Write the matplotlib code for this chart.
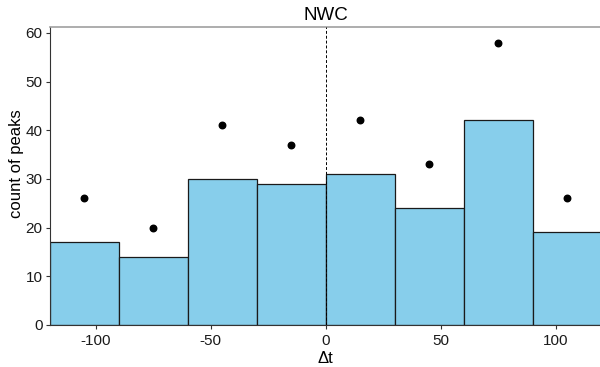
import numpy as np
import matplotlib
matplotlib.use("Agg")
import matplotlib.pyplot as plt

plt.rcParams['font.family'] = ['Liberation Sans', 'DejaVu Sans']
plt.rcParams['axes.unicode_minus'] = False

bin_edges = [-120, -90, -60, -30, 0, 30, 60, 90, 120]
bar_counts = [17, 14, 30, 29, 31, 24, 42, 19]
point_x = [-105, -75, -45, -15, 15, 45, 75, 105]
point_y = [26, 20, 41, 37, 42, 33, 58, 26]

fig = plt.figure(figsize=(6, 3.67), dpi=100)
ax = fig.add_axes([49.5 / 600, 42 / 367, 552 / 600, 298 / 367])

lefts = np.array(bin_edges[:-1])
widths = np.diff(bin_edges)
ax.bar(lefts, bar_counts, width=widths, align='edge', color='#87CEEB',
       edgecolor='#1a1a1a', linewidth=0.9, zorder=2)
ax.scatter(point_x, point_y, color='black', s=22, zorder=3)
ax.axvline(0, color='black', linestyle=(0, (3, 2)), linewidth=0.7, zorder=4)

ax.set_xlim(-120, 120)
ax.set_ylim(0, 61.2)
ax.set_xticks([-100, -50, 0, 50, 100])
ax.set_yticks([0, 10, 20, 30, 40, 50, 60])

ax.spines['right'].set_visible(False)
ax.spines['top'].set_color('#a0a0a0')
ax.spines['top'].set_linewidth(1.2)
ax.spines['left'].set_color('#333333')
ax.spines['bottom'].set_color('#333333')
ax.tick_params(length=3, width=0.8, color='#333333', labelsize=11, labelcolor='#1a1a1a')
ax.tick_params(axis='y', pad=2)

ax.set_title('NWC', fontsize=13.5, pad=5)
ax.set_xlabel('\u0394t', fontsize=12, labelpad=2)
ax.set_ylabel('count of peaks', fontsize=12)
ax.yaxis.set_label_coords(-0.046, 0.54)

fig.savefig('out.png', dpi=100)
